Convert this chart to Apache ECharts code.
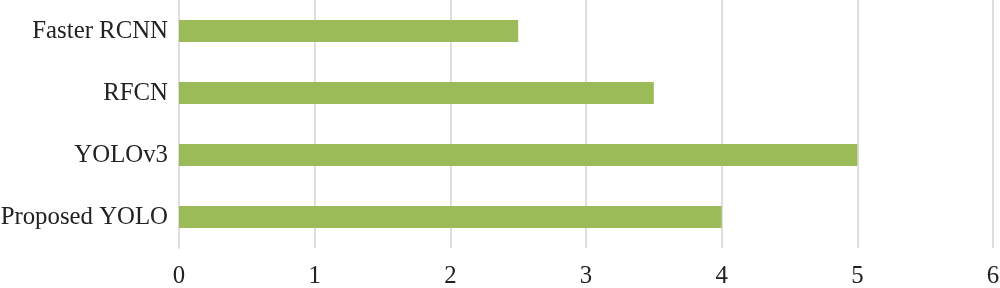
<!DOCTYPE html>
<html><head><meta charset="utf-8">
<script src="https://cdn.jsdelivr.net/npm/echarts@6/dist/echarts.min.js"></script>
<style>html,body{margin:0;padding:0;background:#fff}#c{width:1000px;height:288px}</style>
</head><body><div id="c"></div>
<script>
const categories = ['Faster RCNN', 'RFCN', 'YOLOv3', 'Proposed YOLO'];
const values = [2.5, 3.5, 5, 4];
const xTicks = [0, 1, 2, 3, 4, 5, 6];

const chart = echarts.init(document.getElementById('c'), null, {renderer: 'canvas'});
const font = '"Liberation Serif", "Times New Roman", serif';
chart.setOption({
  animation: false,
  grid: {left: 179, right: 7, top: 0, bottom: 40, containLabel: false, outerBoundsMode: 'none'},
  xAxis: {
    type: 'value', min: xTicks[0], max: xTicks[xTicks.length - 1], interval: 1,
    axisLine: {show: false}, axisTick: {show: false},
    splitLine: {show: true, lineStyle: {color: '#dedede', width: 2}},
    axisLabel: {margin: 16, fontFamily: font, fontSize: 24.8, color: '#222'}
  },
  yAxis: {
    type: 'category', inverse: true, data: categories,
    axisLine: {show: true, lineStyle: {color: '#dedede', width: 2}},
    axisTick: {show: false},
    axisLabel: {margin: 11, fontFamily: font, fontSize: 24.8, color: '#222'}
  },
  series: [{
    type: 'bar', data: values, barWidth: 22,
    itemStyle: {color: '#9bbb59'}
  }]
});
</script></body></html>
